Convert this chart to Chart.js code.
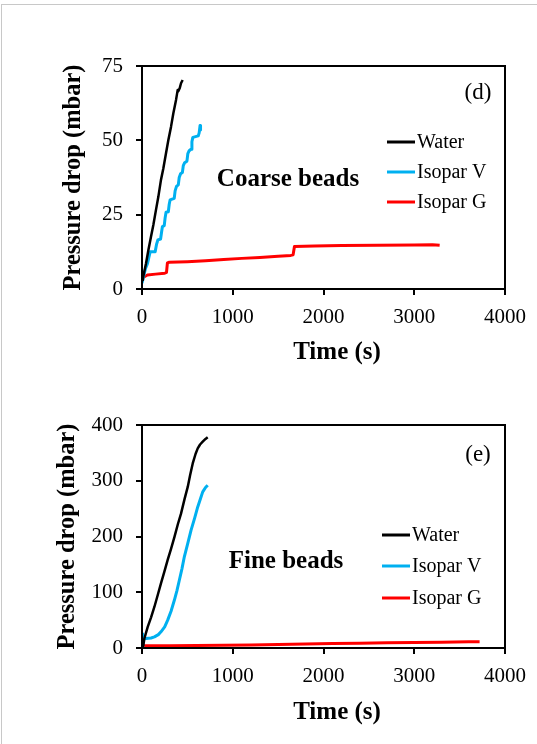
<!DOCTYPE html>
<html>
<head>
<meta charset="utf-8">
<script src="https://cdn.jsdelivr.net/npm/chart.js"></script>
<style>
  body { margin: 0; background: #fff; }
  #page { position: relative; width: 537px; height: 744px; overflow: hidden; }
  #frame { position: absolute; left: 1px; top: 4px; width: 540px; height: 745px;
           border-left: 1px solid #c8c8c8; border-top: 1px solid #c8c8c8; }
  .panel { position: absolute; left: 0; width: 537px; height: 372px; }
</style>
</head>
<body>
<div id="page">
  <div id="frame"></div>
  <div class="panel" style="top:0"><canvas id="coarse" width="537" height="372"></canvas></div>
  <div class="panel" style="top:372px"><canvas id="fine" width="537" height="372"></canvas></div>
</div>
<script>
// (d) coarse beads - time in s, pressure drop in mbar
const coarseWaterTime = [0, 10, 44, 70, 99, 125, 154, 180, 209, 235, 264, 290, 320, 345, 375, 393, 400, 415, 430, 448];
const coarseWaterDp   = [3, 3.6, 8.6, 13, 17.6, 21.5, 26.6, 31, 36.7, 40.5, 45.6, 50, 54.6, 59, 63.6, 66.9, 66.5, 67.5, 69.2, 70.3];

const coarseIsoVTime = [0, 15, 40, 60, 75, 90, 145, 160, 175, 205, 215, 225, 245, 255, 265, 290, 300, 310, 355, 365, 380, 400, 410, 425, 445, 455, 470, 495, 505, 520, 540, 550, 560, 620, 630, 640, 645];
const coarseIsoVDp   = [2, 4, 7, 8.5, 10.5, 12.5, 12.5, 15, 16.5, 16.8, 19, 21, 21.3, 24, 25.8, 26, 28.5, 30, 30.5, 33, 34.5, 35, 37.5, 38.8, 39.2, 41.5, 42.5, 43, 45.5, 46.5, 47, 49.5, 51, 51.5, 52.5, 55, 53.5];

const coarseIsoGTime = [0, 30, 60, 150, 250, 270, 280, 300, 500, 700, 900, 1100, 1300, 1500, 1640, 1665, 1680, 1900, 2200, 2600, 3000, 3200, 3280];
const coarseIsoGDp   = [3.6, 4.2, 4.7, 5, 5.3, 5.6, 8.8, 9, 9.2, 9.5, 9.9, 10.3, 10.6, 11, 11.3, 11.5, 14.3, 14.5, 14.6, 14.7, 14.8, 14.9, 14.7];

// (e) fine beads
const fineWaterTime = [0, 15, 26, 63, 100, 137, 175, 209, 245, 283, 320, 357, 395, 430, 470, 504, 530, 559, 590, 614, 640, 669, 700, 724];
const fineWaterDp   = [0, 5, 17, 38, 55, 74, 96, 116, 136, 158, 178, 199, 222, 241, 268, 289, 310, 331, 348, 358, 365, 370, 375, 378];

const fineIsoVTime = [0, 8, 12, 20, 44, 100, 137, 180, 209, 250, 283, 320, 357, 385, 412, 440, 467, 505, 540, 580, 614, 645, 669, 700, 724];
const fineIsoVDp   = [0, 25, 15, 18, 17, 18, 20, 24, 29, 38, 50, 66, 86, 103, 122, 142, 164, 188, 211, 233, 253, 268, 280, 288, 292];

const fineIsoGTime = [0, 20, 300, 600, 900, 1200, 1500, 1800, 2100, 2400, 2700, 3000, 3300, 3600, 3720];
const fineIsoGDp   = [3, 4, 4, 4.5, 5, 5.5, 6.5, 7, 8, 8.5, 9.5, 10, 10.5, 11, 11];

const seriesNames = ['Water', 'Isopar V', 'Isopar G'];
const seriesColors = ['#000000', '#00b0f0', '#ff0000'];
const timeTicks = [0, 1000, 2000, 3000, 4000];

const serif = '"Liberation Serif", "Times New Roman", serif';

function toPoints(t, p) {
  return t.map((x, i) => ({ x: x, y: p[i] }));
}

function makeDatasets(pairs) {
  return pairs.map(([t, p], i) => ({
    label: seriesNames[i],
    data: toPoints(t, p),
    borderColor: seriesColors[i],
    backgroundColor: seriesColors[i],
    borderWidth: i === 0 ? 2.5 : 3,
    borderJoinStyle: 'round',
    pointRadius: 0,
    showLine: true,
    tension: 0
  }));
}

// box around plot, x title, panel tag, bead label and legend
const panelDecor = {
  id: 'panelDecor',
  afterDraw(chart, args, o) {
    const { ctx, chartArea: a } = chart;
    ctx.save();
    ctx.strokeStyle = '#000';
    ctx.lineWidth = 2;
    ctx.strokeRect(a.left, a.top, a.right - a.left, a.bottom - a.top);

    ctx.fillStyle = '#000';
    ctx.textAlign = 'center';
    ctx.textBaseline = 'middle';
    ctx.font = 'bold 25px ' + serif;
    ctx.fillText('Time (s)', o.xTitleX, o.xTitleY);
    ctx.fillText(o.title, o.titleX, o.titleY);
    ctx.font = '23px ' + serif;
    ctx.fillText(o.tag, o.tagX, o.tagY);

    ctx.font = '20px ' + serif;
    ctx.textAlign = 'left';
    chart.data.datasets.forEach((ds, i) => {
      const y = o.legendY[i];
      ctx.strokeStyle = ds.borderColor;
      ctx.lineWidth = 3;
      ctx.beginPath();
      ctx.moveTo(o.legendX, y);
      ctx.lineTo(o.legendX + 28, y);
      ctx.stroke();
      ctx.fillText(ds.label, o.legendX + 30, y + 1);
    });
    ctx.restore();
  }
};

function makeChart(id, datasets, yMax, yStep, lay, decor) {
  return new Chart(document.getElementById(id), {
    type: 'scatter',
    data: { datasets },
    plugins: [panelDecor],
    options: {
      responsive: false,
      animation: false,
      layout: { padding: { left: 0, top: lay.top, right: 32, bottom: 0 } },
      plugins: { legend: { display: false }, tooltip: { enabled: false }, panelDecor: decor },
      scales: {
        x: {
          type: 'linear', min: 0, max: 4000,
          afterBuildTicks: s => { s.ticks = timeTicks.map(v => ({ value: v })); },
          ticks: { color: '#000', font: { family: serif, size: 21 }, padding: 10, maxRotation: 0,
                   callback: v => String(v) },
          grid: { drawOnChartArea: false, color: '#000', lineWidth: 2, tickLength: 6 },
          border: { color: '#000', width: 2 },
          afterFit: s => { s.height = lay.xHeight; }
        },
        y: {
          min: 0, max: yMax,
          ticks: { stepSize: yStep, color: '#000', font: { family: serif, size: 21 }, padding: 13,
                   callback: v => String(v) },
          grid: { drawOnChartArea: false, color: '#000', lineWidth: 2, tickLength: 6 },
          border: { color: '#000', width: 2 },
          title: { display: true, text: 'Pressure drop (mbar)', color: '#000',
                   font: { family: serif, size: 24.5, weight: 'bold' },
                   padding: { top: lay.yTitlePad, bottom: 0 } },
          afterFit: s => { s.width = 142; }
        }
      }
    }
  });
}

makeChart('coarse',
  makeDatasets([[coarseWaterTime, coarseWaterDp], [coarseIsoVTime, coarseIsoVDp], [coarseIsoGTime, coarseIsoGDp]]),
  75, 25,
  { top: 66, xHeight: 83, yTitlePad: 59 },
  { xTitleX: 337, xTitleY: 353, title: 'Coarse beads', titleX: 288, titleY: 180,
    tag: '(d)', tagX: 478, tagY: 93, legendX: 387, legendY: [142, 172, 202] });

makeChart('fine',
  makeDatasets([[fineWaterTime, fineWaterDp], [fineIsoVTime, fineIsoVDp], [fineIsoGTime, fineIsoGDp]]),
  400, 100,
  { top: 53, xHeight: 96, yTitlePad: 53 },
  { xTitleX: 337, xTitleY: 341, title: 'Fine beads', titleX: 286, titleY: 190,
    tag: '(e)', tagX: 478, tagY: 83, legendX: 382, legendY: [163, 194, 226] });
</script>
</body>
</html>
